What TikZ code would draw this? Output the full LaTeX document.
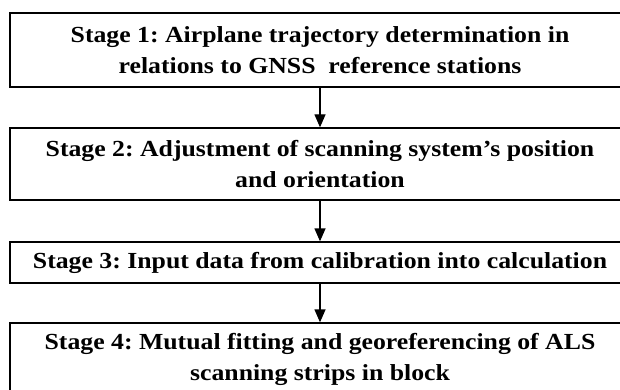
\documentclass[tikz,border=0pt]{standalone}
\usepackage{fontspec}
\setmainfont{Liberation Serif}[FakeStretch=1.12]
\usetikzlibrary{arrows.meta}
\tikzset{
  stagebox/.style={draw=black, line width=1.3pt, minimum width=620pt, inner sep=0pt,
    align=center, font=\bfseries\fontsize{23}{31}\selectfont\frenchspacing},
  flowarrow/.style={line width=1.3pt, -{Triangle[width=11pt,length=13pt]}}
}
\begin{document}
\begin{tikzpicture}[x=1pt,y=-1pt]
\useasboundingbox (0,0) rectangle (620,390);
\clip (0,0) rectangle (620,390);
\node[stagebox, minimum height=74pt] (s1) at (320,50) {Stage 1: Airplane trajectory determination in\\relations to GNSS\ \ reference stations};
\node[stagebox, minimum height=72pt] (s2) at (320,164) {Stage 2: Adjustment of scanning system’s position\\and orientation};
\node[stagebox, minimum height=41pt] (s3) at (320,262.5) {Stage 3: Input data from calibration into calculation};
\node[stagebox, minimum height=73pt] (s4) at (320,359.5) {Stage 4: Mutual fitting and georeferencing of ALS\\scanning strips in block};
\draw[flowarrow] (s1.south) -- (s2.north);
\draw[flowarrow] (s2.south) -- (s3.north);
\draw[flowarrow] (s3.south) -- (s4.north);
\end{tikzpicture}
\end{document}
